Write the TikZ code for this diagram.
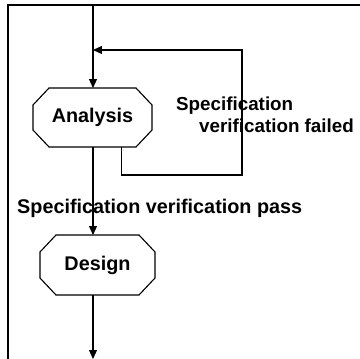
\documentclass[tikz,border=0pt]{standalone}
\usepackage{fontspec}
\setmainfont{Liberation Sans}
\usetikzlibrary{arrows.meta,positioning}
\tikzset{
    stage/.style={rectangle, minimum width=119pt, minimum height=59pt, inner sep=0pt, outer sep=0pt, font=\fontsize{19.8}{22}\selectfont\bfseries},
    outline/.style={draw, line width=1.1pt, line join=miter},
    flow/.style={draw, line width=1.2pt, -{Triangle[length=9pt, width=8pt]}},
    frame/.style={draw, line width=1.2pt},
    note/.style={inner sep=0pt, font=\fontsize{19.8}{22}\selectfont\bfseries}
}
% octagon round a named stage node
\newcommand{\chamferbox}[1]{%
    \draw[outline] ([xshift=16pt]#1.north west) -- ([xshift=-16pt]#1.north east)
        -- ([yshift=-17pt]#1.north east) -- ([yshift=17pt]#1.south east)
        -- ([xshift=-16pt]#1.south east) -- ([xshift=16pt]#1.south west)
        -- ([yshift=17pt]#1.south west) -- ([yshift=-17pt]#1.north west) -- cycle;}
\begin{document}
\begin{tikzpicture}[x=1pt, y=-1pt]
    \useasboundingbox (0,0) rectangle (360,359);
    \draw[frame] (8,359) -- (8,5) -- (360,5);

    % Nodes
    \node[stage] (analysis) at (92.5,117.5) {Analysis};
    \node[stage, minimum width=115pt, minimum height=60pt] (design) at (97.5,265) {Design};
    \chamferbox{analysis}
    \chamferbox{design}
    \coordinate (entry) at (93,5);
    \coordinate (merge) at (93,50);
    \coordinate (back) at (242,50);
    \coordinate (exit) at (93,359);

    % labels
    \node[note, anchor=base west] (pass) at (17,213) {Specification verification pass};
    \node[note, font=\fontsize{18.8}{22}\selectfont\bfseries, anchor=base west, align=left] (failed) at (176,132) {Specification\\\hspace*{23pt}verification failed};

    % edges
    \draw[flow] (entry) -- (entry |- analysis.north);
    \draw[flow] ([xshift=29pt]analysis.south) -- ++(0,28) -| (back) -- (merge);
    \draw[flow] (analysis.south -| entry) -- (entry |- design.north);
    \draw[flow] (design.south -| exit) -- (exit);
\end{tikzpicture}
\end{document}
